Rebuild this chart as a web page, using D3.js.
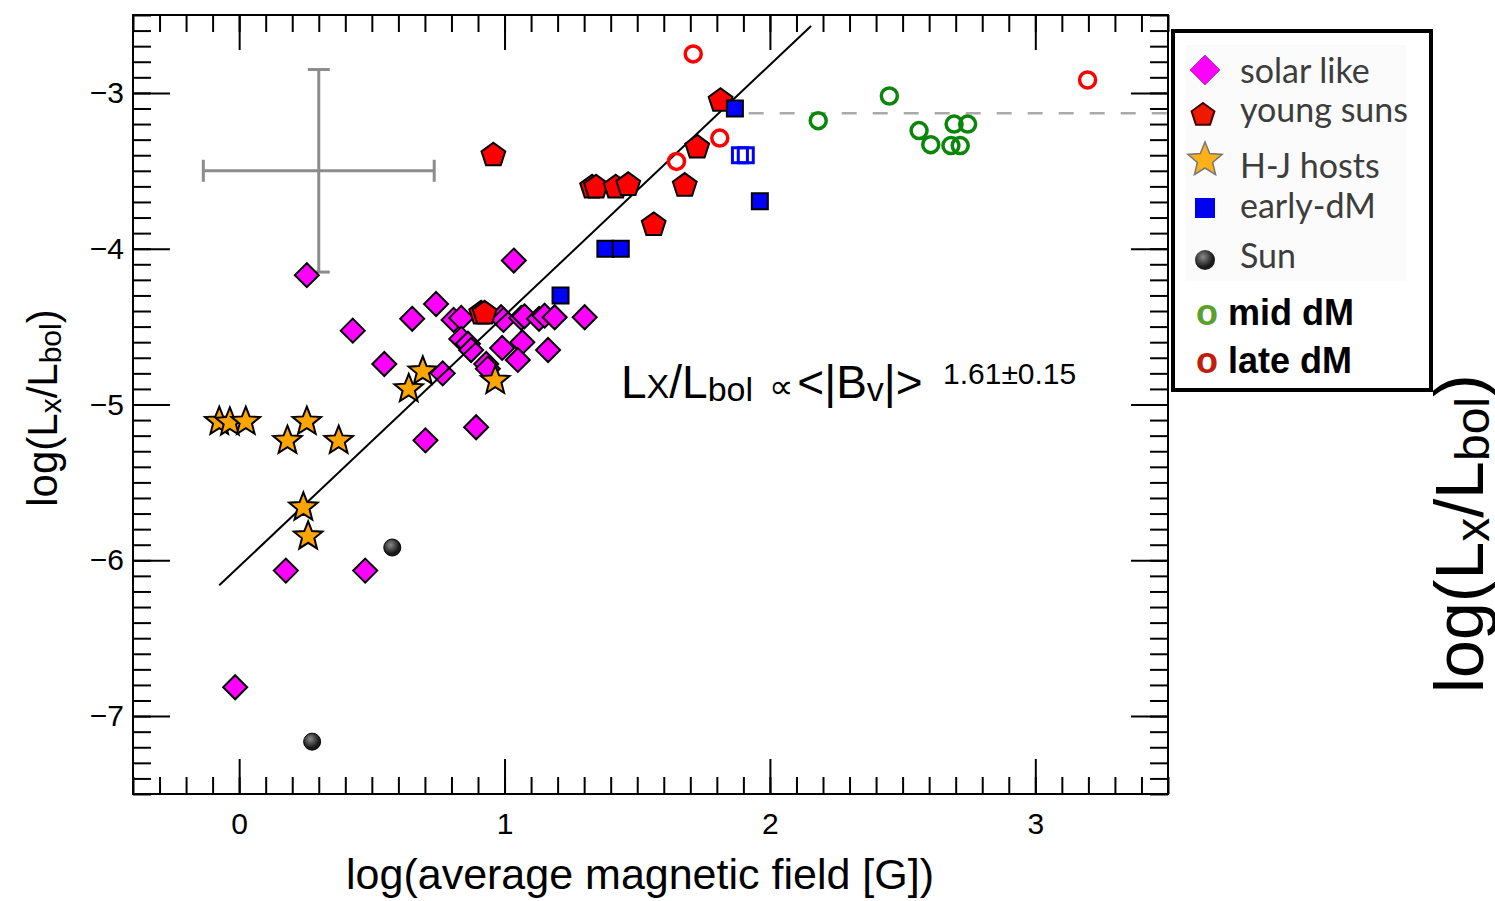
<!doctype html>
<html>
<head>
	<meta charset="utf-8">
	<script src="https://d3js.org/d3.v7.min.js"></script>
	<style>
		body { margin: 0; background: #fff; }
		svg { font-family: "Liberation Sans", Arial, sans-serif; }
	</style>
</head>
<body>
	<svg id="chart" width="1495" height="901"></svg>
	<script>

		// tick labels
		var xTicks = [0, 1, 2, 3];
		var yTicks = [-3, -4, -5, -6, -7];

		// [log B, log Lx/Lbol]
		var solarLike = [
			[0.255, -4.17], [1.035, -4.076], [0.428, -4.526], [0.547, -4.74], [0.652, -4.45],
			[0.742, -4.355], [0.808, -4.457], [0.837, -4.444], [0.987, -4.44], [0.996, -4.457],
			[1.063, -4.444], [1.075, -4.434], [1.13, -4.45], [1.151, -4.43], [1.189, -4.44],
			[1.302, -4.44], [0.837, -4.579], [0.862, -4.61], [0.874, -4.65], [0.991, -4.637],
			[1.067, -4.60], [1.05, -4.714], [1.164, -4.65], [0.931, -4.74], [0.937, -4.77],
			[0.767, -4.80], [0.702, -5.23], [0.893, -5.146], [0.176, -6.066], [0.475, -6.066],
			[-0.015, -6.815]
		];
		var youngSuns = [
			[0.958, -3.40], [1.814, -3.05], [1.726, -3.35], [1.33, -3.606], [1.345, -3.606],
			[1.419, -3.606], [1.466, -3.59], [1.679, -3.595], [1.562, -3.847], [0.912, -4.415],
			[0.925, -4.415]
		];
		var hjHosts = [
			[-0.075, -5.11], [-0.035, -5.115], [0.025, -5.11], [0.255, -5.11], [0.182, -5.232],
			[0.375, -5.232], [0.242, -5.66], [0.26, -5.846], [0.639, -4.90], [0.692, -4.787],
			[0.965, -4.847]
		];
		var earlyDM = [[1.868, -3.10], [1.962, -3.696], [1.380, -4.00], [1.438, -4.00], [1.211, -4.30]];
		var earlyDMOpen = [[1.887, -3.40], [1.909, -3.40]];
		var sun = [[0.577, -5.918], [0.275, -7.164]];
		var midDM = [
			[2.182, -3.178], [2.45, -3.02], [2.562, -3.242], [2.606, -3.332],
			[2.694, -3.20], [2.745, -3.20], [2.682, -3.338], [2.717, -3.338]
		];
		var lateDM = [[1.711, -2.75], [1.811, -3.29], [1.648, -3.44], [3.197, -2.917]];

		// typical error bar, fit and saturation level
		var errCross = {x: 0.30, y: -3.50, dx: 0.435, dy: 0.65};
		var fit = {slope: 1.61, intercept: -6.04, x0: -0.075, x1: 2.155};
		var saturation = {y: -3.13, x0: 1.92, x1: 3.5};

		var svg = d3.select("#chart");
		var margin = {top: 15, right: 327, bottom: 107, left: 133};
		var W = 1495, H = 901;

		var xScale = d3.scaleLinear().domain([-0.4, 3.5]).range([margin.left, W - margin.right]);
		var yScale = d3.scaleLinear().domain([-7.5, -2.5]).range([H - margin.bottom, margin.top]);

		var defs = svg.append("defs");
		var grad = defs.append("radialGradient").attr("id", "sunGrad").attr("cx", "40%").attr("cy", "35%");
		grad.append("stop").attr("offset", "0%").attr("stop-color", "#8a8a8a");
		grad.append("stop").attr("offset", "100%").attr("stop-color", "#1a1a1a");

		// ---- axes (ticks pointing inward on all four sides)
		var minorX = d3.range(-4, 36).map(i => i / 10);
		var minorY = d3.range(-75, -24).map(i => i / 10);
		var x0 = xScale.range()[0], x1 = xScale.range()[1];
		var y0 = yScale.range()[0], y1 = yScale.range()[1];

		function styleAxis(g) {
			g.select(".domain").remove();
			g.selectAll(".tick line").attr("stroke", "#000").attr("stroke-width", 2);
		}

		svg.append("g").attr("transform", "translate(0," + y0 + ")")
			.call(d3.axisBottom(xScale).tickValues(minorX).tickSize(-17).tickFormat("")).call(styleAxis);
		svg.append("g").attr("transform", "translate(0," + y1 + ")")
			.call(d3.axisTop(xScale).tickValues(minorX).tickSize(-17).tickFormat("")).call(styleAxis);
		svg.append("g").attr("transform", "translate(" + x0 + ",0)")
			.call(d3.axisLeft(yScale).tickValues(minorY).tickSize(-18).tickFormat("")).call(styleAxis);
		svg.append("g").attr("transform", "translate(" + x1 + ",0)")
			.call(d3.axisRight(yScale).tickValues(minorY).tickSize(-18).tickFormat("")).call(styleAxis);

		var xAxisG = svg.append("g").attr("transform", "translate(0," + y0 + ")")
			.call(d3.axisBottom(xScale).tickValues(xTicks).tickSize(-35).tickPadding(19).tickFormat(d3.format("d")))
			.call(styleAxis);
		svg.append("g").attr("transform", "translate(0," + y1 + ")")
			.call(d3.axisTop(xScale).tickValues(xTicks).tickSize(-35).tickFormat("")).call(styleAxis);
		var yAxisG = svg.append("g").attr("transform", "translate(" + x0 + ",0)")
			.call(d3.axisLeft(yScale).tickValues(yTicks).tickSize(-37).tickPadding(9).tickFormat(d3.format("d")))
			.call(styleAxis);
		svg.append("g").attr("transform", "translate(" + x1 + ",0)")
			.call(d3.axisRight(yScale).tickValues(yTicks).tickSize(-37).tickFormat("")).call(styleAxis);

		[xAxisG, yAxisG].forEach(g => g.selectAll("text")
			.attr("font-family", "Liberation Sans, Arial, sans-serif").attr("font-size", 30).attr("fill", "#000"));

		svg.append("rect")
			.attr("x", x0).attr("y", y1).attr("width", x1 - x0).attr("height", y0 - y1)
			.attr("fill", "none").attr("stroke", "#000").attr("stroke-width", 2);

		// ---- axis titles
		svg.append("text").attr("x", 640).attr("y", 889).attr("text-anchor", "middle")
			.attr("font-size", 43).text("log(average magnetic field [G])");

		var yTitle = svg.append("text").attr("transform", "translate(57,408) rotate(-90)")
			.attr("text-anchor", "middle").attr("font-size", 42);
		yTitle.append("tspan").text("log(L");
		yTitle.append("tspan").attr("font-size", 30).attr("dy", 4).text("x");
		yTitle.append("tspan").attr("dy", -4).text("/L");
		yTitle.append("tspan").attr("font-size", 30).attr("dy", 4).text("bol");
		yTitle.append("tspan").attr("dy", -4).text(")");

		// ---- error cross
		var cross = svg.append("g").attr("stroke", "#8c8c8c").attr("stroke-width", 3).attr("fill", "none");
		var cx = xScale(errCross.x), cy = yScale(errCross.y);
		var ex0 = xScale(errCross.x - errCross.dx), ex1 = xScale(errCross.x + errCross.dx);
		var ey0 = yScale(errCross.y + errCross.dy), ey1 = yScale(errCross.y - errCross.dy);
		cross.append("line").attr("x1", ex0).attr("x2", ex1).attr("y1", cy).attr("y2", cy);
		cross.append("line").attr("x1", cx).attr("x2", cx).attr("y1", ey0).attr("y2", ey1);
		[ex0, ex1].forEach(v => cross.append("line").attr("x1", v).attr("x2", v).attr("y1", cy - 11).attr("y2", cy + 11));
		[ey0, ey1].forEach(v => cross.append("line").attr("y1", v).attr("y2", v).attr("x1", cx - 11).attr("x2", cx + 11));

		// ---- saturation level
		svg.append("line")
			.attr("x1", xScale(saturation.x0)).attr("x2", xScale(saturation.x1))
			.attr("y1", yScale(saturation.y)).attr("y2", yScale(saturation.y))
			.attr("stroke", "#aaa").attr("stroke-width", 2.5).attr("stroke-dasharray", "15,16");

		// ---- marker shapes
		function diamondPath(r) { return "M0," + (-r) + "L" + r + ",0L0," + r + "L" + (-r) + ",0Z"; }
		function polyPath(n, R, rIn) {
			var pts = [];
			var k = rIn ? 2 * n : n;
			for (var i = 0; i < k; i++) {
				var a = -Math.PI / 2 + i * 2 * Math.PI / k;
				var rr = (rIn && i % 2) ? rIn : R;
				pts.push([rr * Math.cos(a), rr * Math.sin(a)]);
			}
			return "M" + pts.map(p => p[0].toFixed(2) + "," + p[1].toFixed(2)).join("L") + "Z";
		}

		function drawPoints(data, path, fill, stroke, sw) {
			svg.append("g").selectAll("path").data(data).enter().append("path")
				.attr("d", path)
				.attr("transform", d => "translate(" + xScale(d[0]) + "," + yScale(d[1]) + ")")
				.attr("fill", fill).attr("stroke", stroke).attr("stroke-width", sw)
				.attr("stroke-linejoin", "miter");
		}

		drawPoints(solarLike, diamondPath(12), "#ff00ff", "#000", 2);

		// fit line
		svg.append("line")
			.attr("x1", xScale(fit.x0)).attr("y1", yScale(fit.slope * fit.x0 + fit.intercept))
			.attr("x2", xScale(fit.x1)).attr("y2", yScale(fit.slope * fit.x1 + fit.intercept))
			.attr("stroke", "#000").attr("stroke-width", 2);

		drawPoints(hjHosts, polyPath(5, 15, 6.5), "#ffa500", "#000", 2);
		drawPoints(youngSuns, polyPath(5, 12.5), "#ff0000", "#000", 2);
		drawPoints(earlyDM, "M-8,-8h16v16h-16Z", "#0000ff", "#000", 2);
		drawPoints(earlyDMOpen, "M-7.5,-7.5h15v15h-15Z", "none", "#0000ff", 3);

		svg.append("g").selectAll("circle").data(sun).enter().append("circle")
			.attr("cx", d => xScale(d[0])).attr("cy", d => yScale(d[1])).attr("r", 8.5)
			.attr("fill", "url(#sunGrad)").attr("stroke", "#000").attr("stroke-width", 1);

		[[midDM, "#0a870a"], [lateDM, "#ff0000"]].forEach(function(s) {
			svg.append("g").selectAll("circle").data(s[0]).enter().append("circle")
				.attr("cx", d => xScale(d[0])).attr("cy", d => yScale(d[1])).attr("r", 8)
				.attr("fill", "none").attr("stroke", s[1]).attr("stroke-width", 3.5);
		});

		// ---- relation label
		var rel = svg.append("text").attr("x", 621).attr("y", 398).attr("font-size", 46);
		rel.append("tspan").text("L");
		rel.append("tspan").attr("font-size", 34).text("X");
		rel.append("tspan").text("/L");
		rel.append("tspan").attr("font-size", 34).attr("dy", 3).text("bol");
		rel.append("tspan").attr("font-size", 34).attr("dy", -3).attr("dx", 16)
			.attr("font-family", "DejaVu Sans").text("\u221d");
		rel.append("tspan").attr("dx", 4).text("<|B");
		rel.append("tspan").attr("font-size", 34).attr("dy", 3).text("v");
		rel.append("tspan").attr("dy", -3).text("|>");
		svg.append("text").attr("x", 943).attr("y", 384).attr("font-size", 30).text("1.61\u00b10.15");

		// ---- legend
		var legendItems = ["solar like", "young suns", "H-J hosts", "early-dM", "Sun"];
		var legendDM = ["mid dM", "late dM"];
		var legendDMColors = ["#5aa02c", "#c0200a"];

		var lg = svg.append("g");
		lg.append("rect").attr("x", 1173).attr("y", 31).attr("width", 258).attr("height", 359)
			.attr("fill", "#fff").attr("stroke", "#000").attr("stroke-width", 4);
		lg.append("rect").attr("x", 1186).attr("y", 45).attr("width", 220).attr("height", 236).attr("fill", "#fbfbfb");

		var legendBase = [83, 122, 178, 218, 268];
		var legendMarkY = [70, 115, 160, 208, 260];
		var lx = 1205;
		lg.append("path").attr("d", diamondPath(15)).attr("transform", "translate(" + lx + "," + legendMarkY[0] + ")")
			.attr("fill", "#f0f").attr("stroke", "#b03cc0").attr("stroke-width", 1);
		lg.append("path").attr("d", polyPath(5, 12)).attr("transform", "translate(" + (lx - 2) + "," + legendMarkY[1] + ")")
			.attr("fill", "#ee1a00").attr("stroke", "#400").attr("stroke-width", 2);
		lg.append("path").attr("d", polyPath(5, 18, 8)).attr("transform", "translate(" + lx + "," + legendMarkY[2] + ")")
			.attr("fill", "#fbb117").attr("stroke", "#777").attr("stroke-width", 1.5);
		lg.append("rect").attr("x", lx - 10).attr("y", legendMarkY[3] - 10).attr("width", 20).attr("height", 20)
			.attr("fill", "#0000f0");
		lg.append("circle").attr("cx", lx).attr("cy", legendMarkY[4]).attr("r", 10).attr("fill", "url(#sunGrad)");

		lg.selectAll("text.item").data(legendItems).enter().append("text").attr("class", "item")
			.attr("x", 1240).attr("y", (d, i) => legendBase[i])
			.attr("font-family", "Lato, 'Open Sans', sans-serif").attr("font-size", 34).attr("fill", "#3d3d3d")
			.text(d => d);

		legendDM.forEach(function(name, i) {
			var t = lg.append("text").attr("x", 1196).attr("y", 325 + i * 48)
				.attr("font-size", 36).attr("font-weight", "bold");
			t.append("tspan").attr("fill", legendDMColors[i]).text("o");
			t.append("tspan").attr("fill", "#000").text(" " + name);
		});

		// ---- large stray axis title on the right edge (clipped by the page edge, as in the original)
		var big = svg.append("text").attr("transform", "translate(1483,693) rotate(-90)").attr("font-size", 68);
		big.append("tspan").text("log(L");
		big.append("tspan").attr("font-size", 48).attr("dy", 6).text("x");
		big.append("tspan").attr("dy", -6).text("/L");
		big.append("tspan").attr("font-size", 48).attr("dy", 6).text("bol");
		big.append("tspan").attr("dy", -6).text(")");
	</script>
</body>
</html>
